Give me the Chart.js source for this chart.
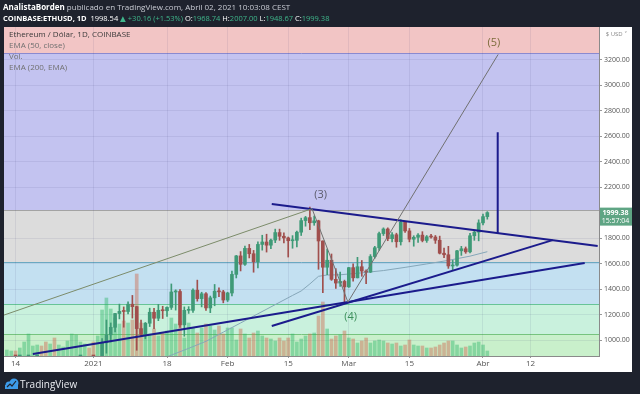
<!DOCTYPE html>
<html>
<head>
<meta charset="utf-8">
<script src="https://cdn.jsdelivr.net/npm/chart.js@4.4.0/dist/chart.umd.min.js"></script>
<style>
  html, body { margin: 0; padding: 0; background: #1e222d; }
</style>
</head>
<body>
<canvas id="chart" width="640" height="394"></canvas>
<script>
// day index: 0 = 14 Dec 2020, one step per day. Series start on 12 Dec 2020.
const firstDay = -2;

const open = [
  545, 568, 590, 586, 589, 636, 642, 654, 659, 638, 608, 635, 584, 612, 626, 635, 683, 730, 731, 751,
  737, 730, 775, 979, 1041, 1100, 1208, 1225, 1224, 1281, 1262, 1090, 1045, 1132, 1218, 1171, 1233, 1230, 1256, 1377, 1381, 1119, 1233, 1233, 1391, 1325, 1363, 1252, 1331, 1383, 1378,
  1314, 1369, 1515, 1660, 1594, 1719, 1677, 1614, 1750, 1769, 1744, 1784, 1843, 1814, 1801, 1779, 1782, 1846, 1937, 1960, 1920, 1935, 1777, 1571, 1626, 1476, 1447, 1460,
  1417, 1568, 1488, 1575, 1541, 1533, 1655, 1724, 1835, 1871, 1795, 1826, 1771, 1924, 1856, 1791, 1806, 1823, 1781, 1810, 1808, 1783, 1681, 1669, 1581, 1587, 1700, 1716, 1692, 1818, 1846,
  1919, 1968
];
const high = [
  572, 598, 592, 596, 641, 677, 660, 669, 664, 648, 637, 638, 613, 628, 645, 720, 745, 737, 753, 754,
  749, 787, 1011, 1157, 1134, 1210, 1282, 1260, 1300, 1350, 1265, 1157, 1138, 1250, 1248, 1280, 1265, 1260, 1440, 1394, 1395, 1260, 1262, 1401, 1470, 1375, 1372, 1345, 1436, 1410, 1390,
  1375, 1540, 1664, 1694, 1737, 1750, 1703, 1770, 1822, 1830, 1792, 1870, 1870, 1841, 1808, 1819, 1855, 1956, 1970, 2042, 1973, 1940, 1778, 1713, 1675, 1560, 1534, 1470,
  1570, 1597, 1649, 1624, 1550, 1670, 1735, 1846, 1880, 1880, 1842, 1838, 1944, 1932, 1875, 1818, 1835, 1850, 1820, 1830, 1820, 1815, 1722, 1735, 1625, 1703, 1735, 1730, 1837, 1855, 1943,
  1988, 2007
];
const low = [
  543, 563, 576, 580, 582, 633, 627, 644, 628, 600, 585, 567, 577, 602, 612, 632, 680, 695, 720, 717,
  714, 715, 768, 897, 985, 1064, 1166, 1101, 1205, 1172, 920, 1030, 1010, 1106, 1090, 1152, 1169, 1186, 1240, 1235, 1100, 1030, 1209, 1217, 1305, 1260, 1232, 1215, 1269, 1341, 1292,
  1302, 1347, 1487, 1542, 1585, 1644, 1532, 1566, 1705, 1690, 1716, 1764, 1782, 1762, 1651, 1720, 1731, 1820, 1893, 1865, 1900, 1555, 1371, 1512, 1468, 1405, 1420, 1293,
  1413, 1461, 1487, 1500, 1442, 1529, 1642, 1703, 1820, 1779, 1770, 1728, 1745, 1845, 1770, 1736, 1765, 1770, 1766, 1799, 1758, 1675, 1646, 1562, 1545, 1580, 1664, 1680, 1684, 1782, 1778,
  1903, 1948
];
const close = [
  568, 590, 586, 589, 636, 642, 654, 659, 638, 608, 635, 584, 612, 626, 635, 683, 730, 731, 751, 737,
  730, 775, 979, 1041, 1100, 1208, 1225, 1224, 1281, 1262, 1090, 1045, 1132, 1218, 1171, 1233, 1230, 1256, 1377, 1381, 1119, 1233, 1233, 1391, 1325, 1363, 1252, 1331, 1383, 1378, 1314,
  1369, 1515, 1660, 1594, 1719, 1677, 1614, 1750, 1769, 1744, 1784, 1843, 1814, 1801, 1779, 1782, 1846, 1937, 1960, 1920, 1935, 1777, 1571, 1626, 1476, 1447, 1460, 1417,
  1568, 1488, 1575, 1541, 1533, 1655, 1724, 1835, 1871, 1795, 1826, 1771, 1924, 1856, 1791, 1806, 1823, 1781, 1810, 1808, 1783, 1681, 1669, 1581, 1587, 1700, 1716, 1692, 1818, 1846, 1919,
  1968, 1999.38
];
// volume, thousand ETH
const volume = [
  90, 75, 75, 120, 210, 330, 150, 165, 150, 210, 180, 270, 165, 135, 225, 330, 315, 210, 180, 120,
  210, 300, 690, 870, 705, 570, 480, 525, 495, 540, 1230, 495, 420, 330, 405, 300, 345, 375, 570, 480, 525, 270, 495, 420, 345, 420, 480, 450, 390, 450, 330,
  420, 420, 240, 405, 330, 270, 345, 375, 300, 270, 255, 225, 270, 225, 270, 330, 210, 255, 300, 330, 345, 600, 810, 405, 255, 300, 315, 375,
  270, 255, 195, 225, 270, 195, 225, 240, 225, 195, 180, 195, 150, 165, 240, 165, 150, 150, 120, 120, 135, 165, 195, 225, 225, 165, 120, 135, 150, 195, 210,
  165, 75
];

// moving average line
const emaDays = [34, 36, 40, 44, 48, 52, 56, 60, 64, 66, 68, 70, 72, 75, 80, 85, 90, 95, 100, 105, 109];
const emaValues = [855, 882, 935, 990, 1062, 1134, 1206, 1278, 1350, 1385, 1440, 1500, 1510, 1512, 1527, 1545, 1570, 1597, 1625, 1658, 1693];

// axis ticks
const tickDays = [0, 18, 35, 49, 63, 77, 91, 108, 119];
const tickLabels = ['14', '2021', '18', 'Feb', '15', 'Mar', '15', 'Abr', '12'];
const priceTicks = [1000, 1200, 1400, 1600, 1800, 2200, 2400, 2600, 2800, 3000, 3200];
const lastPrice = 1999.38;

// horizontal zones (price levels, top to bottom)
const bandLevels = [3251, 2020, 1612, 1282, 1047];

// hand drawn lines, [day, price] end points
const riseDays = [-3, 68.5], risePrices = [1192, 2030];
const waveDays = [68.5, 76.8, 111.5], wavePrices = [2030, 1298, 3240];
const resistDays = [59.2, 134.5], resistPrices = [2067, 1737];
const supportDays = [4, 131.5], supportPrices = [890, 1604];
const support2Days = [59.2, 124.1], support2Prices = [1110, 1784];
const targetDays = [111.4, 111.4], targetPrices = [2630, 1839];

const waveLabels = ['(3)', '(4)', '(5)'];
const labelDays = [70.5, 77.4, 110.5];
const labelPrices = [2137, 1183, 3332];

const FONT = "'Open Sans', 'DejaVu Sans', sans-serif";
const upColor = '#3f9a77';
const downColor = '#a04f4d';
const navy = '#1b1b8c';

const days = close.map((_, i) => firstDay + i);
const isUp = close.map((c, i) => c >= open[i]);
const candleColors = isUp.map(u => (u ? upColor : downColor));
const pts = (xs, ys) => xs.map((x, i) => ({ x: x, y: ys[i] }));

const bandFill = ['#f2c5c5', '#c3c3f0', '#dcdcdc', '#c3e0f1', '#c9f1dd', '#c9f0cb'];
const bandLine = ['#8a8ad0', '#a3a3a3', '#6aa9c2', '#67c497', '#76c47e'];

const backdrop = {
  id: 'backdrop',
  beforeDraw(chart) {
    const ctx = chart.ctx;
    const a = chart.chartArea;
    const ys = chart.scales.y;
    const xs = chart.scales.x;
    ctx.save();
    ctx.fillStyle = '#1e222d';
    ctx.fillRect(0, 0, chart.width, chart.height);
    ctx.fillStyle = '#ffffff';
    ctx.fillRect(a.left, a.top, ys.right - a.left, xs.bottom - a.top);
    const edges = [ys.max].concat(bandLevels, [ys.min]);
    for (let i = 0; i < edges.length - 1; i++) {
      const t = Math.max(a.top, ys.getPixelForValue(edges[i]));
      const b = Math.min(a.bottom, ys.getPixelForValue(edges[i + 1]));
      ctx.fillStyle = bandFill[i];
      ctx.fillRect(a.left, t, a.right - a.left, b - t);
    }
    bandLevels.forEach((lv, i) => {
      const y = Math.round(ys.getPixelForValue(lv)) + 0.5;
      ctx.strokeStyle = bandLine[i];
      ctx.lineWidth = 1;
      ctx.beginPath();
      ctx.moveTo(a.left, y);
      ctx.lineTo(a.right, y);
      ctx.stroke();
    });
    ctx.restore();
  }
};

function drawSegments(ctx, x, y, segs, size) {
  segs.forEach(s => {
    ctx.font = (s[2] ? 'bold ' : '') + size + 'px ' + FONT;
    ctx.fillStyle = s[1];
    ctx.fillText(s[0], x, y);
    x += ctx.measureText(s[0]).width;
  });
}

const overlay = {
  id: 'overlay',
  afterDraw(chart) {
    const ctx = chart.ctx;
    const a = chart.chartArea;
    const xs = chart.scales.x;
    const ys = chart.scales.y;
    ctx.save();
    ctx.textBaseline = 'alphabetic';

    // header
    const g = '#3fb68b';
    drawSegments(ctx, 3, 10, [
      ['AnalistaBorden', '#ffffff', true],
      [' publicado en TradingView.com, Abril 02, 2021 10:03:08 CEST', '#c9ccd4', false]
    ], 8);
    drawSegments(ctx, 3, 21, [
      ['COINBASE:ETHUSD, 1D  ', '#ffffff', true],
      ['1998.54 ', '#ffffff', false],
      ['\u25B2 +30.16 (+1.53%) ', g, false],
      ['O:', '#ffffff', false], ['1968.74 ', g, false],
      ['H:', '#ffffff', false], ['2007.00 ', g, false],
      ['L:', '#ffffff', false], ['1948.67 ', g, false],
      ['C:', '#ffffff', false], ['1999.38', g, false]
    ], 7.5);

    // pane legend
    ctx.font = '8px ' + FONT;
    ctx.fillStyle = '#3a3a3a';
    ctx.fillText('Ethereum / D\u00F3lar, 1D, COINBASE', a.left + 5, a.top + 10);
    ctx.fillStyle = '#707070';
    ctx.fillText('EMA (50, close)', a.left + 5, a.top + 21);
    ctx.fillText('Vol.', a.left + 5, a.top + 32);
    ctx.fillText('EMA (200, EMA)', a.left + 5, a.top + 43);

    // wave labels
    const labelColors = ['#5b5b6b', '#3c8f5b', '#7d6c3c'];
    ctx.font = '11px ' + FONT;
    ctx.textAlign = 'center';
    ctx.textBaseline = 'middle';
    waveLabels.forEach((t, i) => {
      ctx.fillStyle = labelColors[i];
      ctx.fillText(t, xs.getPixelForValue(labelDays[i]), ys.getPixelForValue(labelPrices[i]));
    });

    // last price tag on the axis
    const py = ys.getPixelForValue(lastPrice);
    ctx.fillStyle = '#5fa584';
    ctx.fillRect(ys.left + 1, py - 5, ys.right - ys.left - 1, 18);
    ctx.fillStyle = '#ffffff';
    ctx.font = 'bold 7px ' + FONT;
    ctx.fillText(lastPrice.toFixed(2), (ys.left + ys.right) / 2, py);
    ctx.font = '7px ' + FONT;
    ctx.fillText('15:57:04', (ys.left + ys.right) / 2, py + 8);

    // currency tag
    ctx.fillStyle = '#888';
    ctx.font = '6px ' + FONT;
    ctx.fillText('$ USD \u02C5', (ys.left + ys.right) / 2 + 1, a.top + 7);

    // footer
    ctx.fillStyle = '#3d9be9';
    ctx.beginPath();
    ctx.arc(9, 385, 3.5, 0, Math.PI * 2);
    ctx.arc(14, 383, 4.5, 0, Math.PI * 2);
    ctx.fill();
    ctx.fillRect(5, 385, 13, 4);
    ctx.strokeStyle = '#1e222d';
    ctx.lineWidth = 1.2;
    ctx.beginPath();
    ctx.moveTo(7, 387); ctx.lineTo(10, 384); ctx.lineTo(12, 386); ctx.lineTo(16, 381);
    ctx.stroke();
    ctx.fillStyle = '#e8eaef';
    ctx.font = '10px ' + FONT;
    ctx.textAlign = 'left';
    ctx.textBaseline = 'middle';
    ctx.fillText('TradingView', 20, 385);
    ctx.restore();
  }
};

const lineSet = (xsArr, ysArr, color, width) => ({
  type: 'line',
  data: pts(xsArr, ysArr),
  borderColor: color,
  borderWidth: width,
  pointRadius: 0,
  tension: 0,
  order: 1
});

const ctx = document.getElementById('chart').getContext('2d');
new Chart(ctx, {
  type: 'bar',
  data: {
    datasets: [
      {
        type: 'bar',
        data: pts(days, volume),
        yAxisID: 'vol',
        backgroundColor: isUp.map(u => (u ? 'rgba(40,178,100,0.42)' : 'rgba(205,112,88,0.48)')),
        barThickness: 3,
        grouped: false,
        order: 10
      },
      {
        type: 'line',
        data: pts(emaDays, emaValues),
        borderColor: '#86a7b9',
        borderWidth: 1,
        pointRadius: 0,
        order: 8
      },
      {
        type: 'bar',
        data: days.map((d, i) => ({ x: d, y: [low[i], high[i]] })),
        backgroundColor: candleColors,
        barThickness: 1,
        grouped: false,
        order: 6
      },
      {
        type: 'bar',
        data: days.map((d, i) => ({ x: d, y: [open[i], close[i]] })),
        backgroundColor: candleColors,
        barThickness: 3,
        minBarLength: 1,
        grouped: false,
        order: 5
      },
      lineSet(riseDays, risePrices, '#7c8c6a', 1),
      lineSet(waveDays, wavePrices, '#717171', 1),
      lineSet(resistDays, resistPrices, navy, 2),
      lineSet(supportDays, supportPrices, navy, 2),
      lineSet(support2Days, support2Prices, navy, 2),
      lineSet(targetDays, targetPrices, navy, 2)
    ]
  },
  options: {
    responsive: false,
    animation: false,
    devicePixelRatio: 1,
    layout: { padding: { left: 4, top: 27, right: 8, bottom: 22 } },
    plugins: { legend: { display: false }, tooltip: { enabled: false } },
    scales: {
      x: {
        type: 'linear',
        min: -2.66,
        max: 134.8,
        offset: false,
        border: { color: '#8a8a8a' },
        grid: { color: 'rgba(60,60,110,0.09)', offset: false, tickLength: 2, tickColor: '#999' },
        ticks: {
          color: '#555',
          font: { size: 8, family: FONT },
          padding: 1,
          maxRotation: 0,
          autoSkip: false,
          callback: v => tickLabels[tickDays.indexOf(v)]
        },
        afterBuildTicks: s => { s.ticks = tickDays.map(v => ({ value: v })); },
        afterFit: s => { s.height = 16; }
      },
      y: {
        position: 'right',
        min: 875,
        max: 3455,
        border: { color: '#8a8a8a' },
        grid: { color: 'rgba(60,60,110,0.09)', tickLength: 3, tickColor: '#999' },
        ticks: {
          color: '#555',
          font: { size: 7, family: FONT },
          padding: 2,
          callback: v => v.toFixed(2)
        },
        afterBuildTicks: s => { s.ticks = priceTicks.map(v => ({ value: v })); },
        afterFit: s => { s.width = 33; }
      },
      vol: { display: false, min: 0, max: 4935 }
    }
  },
  plugins: [backdrop, overlay]
});
</script>
</body>
</html>
